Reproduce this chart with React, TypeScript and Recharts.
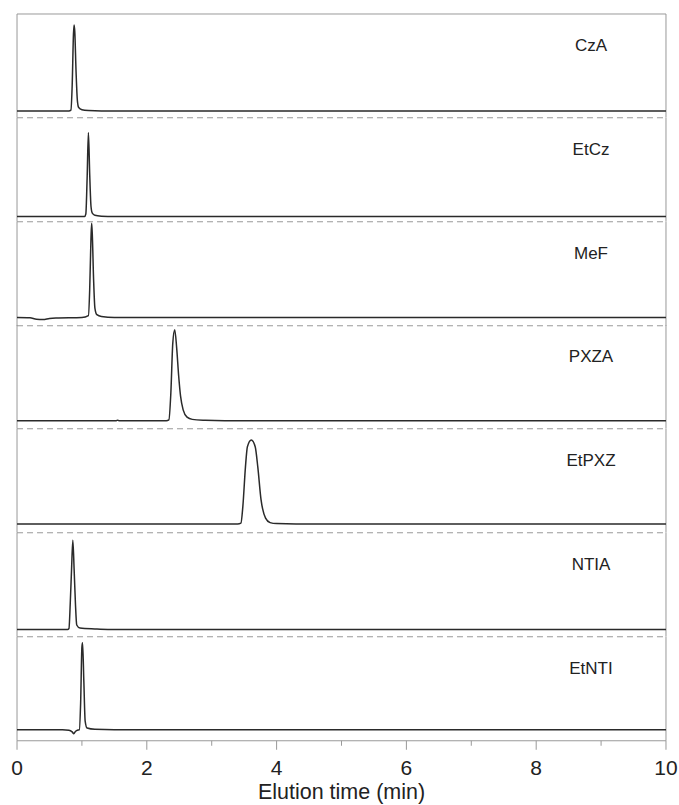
import React from 'react';
import { LineChart, Line, XAxis, YAxis, ReferenceLine } from 'recharts';

// Compound names, one chromatogram per band (top to bottom)
const compounds = ['CzA', 'EtCz', 'MeF', 'PXZA', 'EtPXZ', 'NTIA', 'EtNTI'];

// [elution time (min), relative response (peak = 100)]
const czA: [number, number][] = [
  [0, 0], [0.8, 0], [0.83, 1], [0.85, 30], [0.87, 90], [0.88, 100], [0.89, 92],
  [0.91, 45], [0.93, 12], [0.95, 4], [1.0, 1.5], [1.1, 0.5], [1.3, 0], [10, 0],
];
const etCz: [number, number][] = [
  [0, 0], [1.04, 0], [1.06, 3], [1.08, 45], [1.1, 100], [1.12, 50], [1.14, 12],
  [1.16, 4], [1.2, 1.5], [1.3, 0.5], [1.5, 0], [10, 0],
];
const meF: [number, number][] = [
  [0, 0], [0.2, -0.3], [0.3, -2], [0.4, -2.2], [0.5, -1], [0.6, -0.5], [1.0, 0],
  [1.1, 2], [1.12, 30], [1.14, 85], [1.15, 100], [1.16, 88], [1.18, 40], [1.2, 10],
  [1.23, 3], [1.3, 1], [1.5, 0], [10, 0],
];
const pxzA: [number, number][] = [
  [0, 0], [1.53, 0], [1.55, 0.6], [1.57, 0], [2.3, 0], [2.34, 1], [2.37, 30],
  [2.4, 85], [2.43, 100], [2.46, 80], [2.49, 50], [2.52, 27], [2.56, 12], [2.62, 4],
  [2.7, 1.5], [2.9, 0.5], [3.2, 0], [10, 0],
];
const etPxz: [number, number][] = [
  [0, 0], [3.4, 0], [3.45, 1], [3.48, 21], [3.52, 68], [3.55, 92], [3.61, 100],
  [3.67, 92], [3.71, 68], [3.76, 29], [3.83, 7], [3.9, 1.6], [4.0, 0.4], [4.3, 0], [10, 0],
];
const ntiA: [number, number][] = [
  [0, 0], [0.78, 0], [0.8, 1], [0.82, 29], [0.84, 67], [0.86, 100], [0.88, 67],
  [0.9, 29], [0.92, 5], [0.97, 1.5], [1.2, 0.5], [1.4, 0], [10, 0],
];
const etNti: [number, number][] = [
  [0, 0], [0.7, 0], [0.8, -0.5], [0.85, -2.5], [0.875, -4.5], [0.9, -2], [0.94, -0.3],
  [0.96, 0], [0.98, 30], [1.0, 95], [1.01, 100], [1.03, 55], [1.05, 10], [1.08, 2],
  [1.2, 0.5], [1.5, 0], [10, 0],
];

const traces = [czA, etCz, meF, pxzA, etPxz, ntiA, etNti];

// visible response range of each band [min, max]
const bands: [number, number][] = [
  [-7.86, 112.8],
  [-6.19, 117.25],
  [-8.81, 101.27],
  [-8.79, 105.16],
  [-10.48, 113.1],
  [-8.18, 108.07],
  [-12.64, 106.55],
];

const timeTicks = [0, 1, 2, 3, 4, 5, 6, 7, 8, 9, 10];

const W = 679;
const TOP = 14;
const PANEL_H = 103.76;
const PAD = 4;
const AXIS_H = 65;
const MARGIN_L = 17;
const MARGIN_R = 13;
const FRAME = '#999';
const INK = '#222';
const FONT = '"Liberation Sans", Arial, Helvetica, sans-serif';

const TimeTick = (props: any) => {
  const { x, y, payload } = props;
  const major = payload.value % 2 === 0;
  return (
    <g>
      <line x1={x} x2={x} y1={y} y2={y + (major ? 9 : 5)} stroke={FRAME} strokeWidth={1} />
      {major && (
        <text x={x} y={y + 34} textAnchor="middle" fill={INK} fontSize={21}>
          {payload.value}
        </text>
      )}
    </g>
  );
};

export default function App() {
  return (
    <div
      style={{
        position: 'absolute',
        left: 0,
        top: 0,
        width: W,
        height: 805,
        background: '#fff',
        fontFamily: FONT,
      }}
    >
      {compounds.map((name, i) => {
        const last = i === compounds.length - 1;
        const data = traces[i].map(([t, v]) => ({ t, v }));
        const [lo, hi] = bands[i];
        const panelTop = TOP + i * PANEL_H;
        const h = last ? PANEL_H + PAD + AXIS_H : PANEL_H + 2 * PAD;
        return (
          <div key={name} style={{ position: 'absolute', left: 0, top: panelTop - PAD }}>
            <LineChart
              width={W}
              height={h}
              data={data}
              margin={{ top: PAD, right: MARGIN_R, bottom: last ? 0 : PAD, left: MARGIN_L }}
            >
              {last ? (
                <XAxis
                  dataKey="t"
                  type="number"
                  domain={[0, 10]}
                  ticks={timeTicks}
                  interval={0}
                  height={AXIS_H}
                  tickSize={0}
                  tickMargin={0}
                  tickLine={false}
                  axisLine={{ stroke: FRAME, strokeWidth: 1 }}
                  tick={<TimeTick />}
                  label={{
                    value: 'Elution time (min)',
                    position: 'insideBottom',
                    offset: 7,
                    fill: INK,
                    fontSize: 21.5,
                  }}
                />
              ) : (
                <XAxis dataKey="t" type="number" domain={[0, 10]} hide />
              )}
              <YAxis type="number" domain={[lo, hi]} allowDataOverflow hide />
              <ReferenceLine x={0} stroke={FRAME} strokeWidth={1} />
              <ReferenceLine x={10} stroke={FRAME} strokeWidth={1} />
              {i === 0 && <ReferenceLine y={hi} stroke={FRAME} strokeWidth={1} />}
              {!last && (
                <ReferenceLine y={lo} stroke={FRAME} strokeWidth={1} strokeDasharray="6 4" />
              )}
              <Line
                type="monotone"
                dataKey="v"
                stroke="#2a2a2a"
                strokeWidth={1.5}
                dot={false}
                activeDot={false}
                isAnimationActive={false}
              />
            </LineChart>
            <div
              style={{
                position: 'absolute',
                left: 591,
                top: PAD + 31,
                transform: 'translate(-50%, -50%)',
                fontSize: 17,
                lineHeight: 1,
                color: INK,
                whiteSpace: 'nowrap',
              }}
            >
              {name}
            </div>
          </div>
        );
      })}
    </div>
  );
}
